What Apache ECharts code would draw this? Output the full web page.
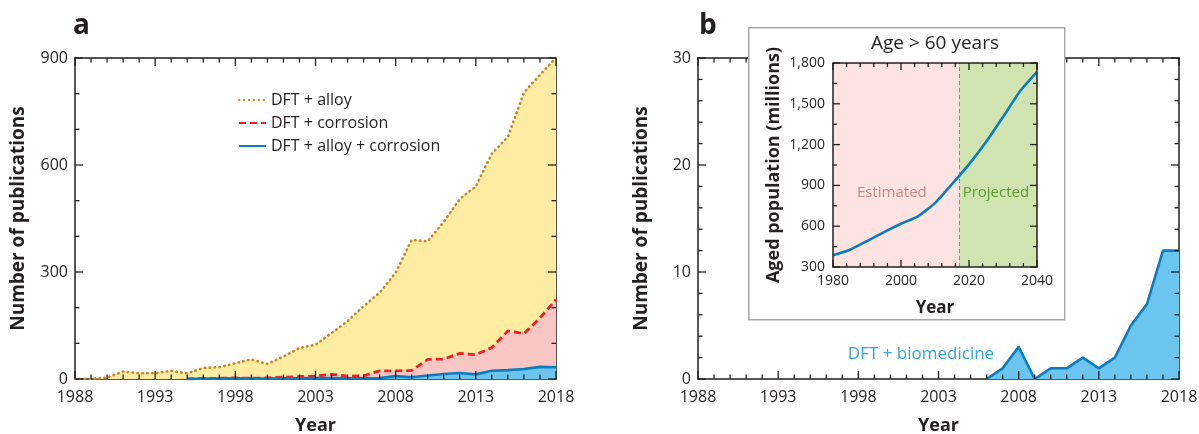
<!DOCTYPE html>
<html>
<head>
<meta charset="utf-8">
<title>DFT publications and aged population</title>
<script src="https://cdn.jsdelivr.net/npm/echarts@6/dist/echarts.min.js"></script>
<style>
  html, body { margin: 0; padding: 0; background: #fff; }
  #chart { width: 1199px; height: 434px; }
</style>
</head>
<body>
<div id="chart"></div>
<script>
// Publication years shared by both panels
const years = [1988, 1989, 1990, 1991, 1992, 1993, 1994, 1995, 1996, 1997, 1998,
               1999, 2000, 2001, 2002, 2003, 2004, 2005, 2006, 2007, 2008, 2009,
               2010, 2011, 2012, 2013, 2014, 2015, 2016, 2017, 2018];

// Panel a: yearly publication counts
const dftAlloy = [0, 0, 4, 21, 16, 16, 23, 16, 31, 33, 44,
                  55, 42, 63, 87, 96, 129, 162, 204, 242, 298, 390,
                  386, 441, 505, 540, 632, 679, 803, 853, 900];
const dftCorrosion = [null, null, null, null, null, null, null, 0, 2, 2, 3,
                      2, 3, 5, 7, 8, 13, 8, 9, 23, 23, 24,
                      55, 56, 72, 68, 88, 135, 127, 171, 223];
const dftAlloyCorrosion = [null, null, null, null, null, null, null, 0, 1, 1, 2,
                           1, 1, 2, 2, 3, 3, 2, 2, 3, 8, 5,
                           10, 14, 17, 13, 23, 25, 28, 34, 33];

// Panel b: DFT + biomedicine
const bioYears = [2006, 2007, 2008, 2009, 2010, 2011, 2012, 2013, 2014, 2015, 2016, 2017, 2018];
const dftBiomedicine = [0, 1, 3, 0, 1, 1, 2, 1, 2, 5, 7, 12, 12];

// Inset: population aged over 60 (millions)
const popYears = [1980, 1985, 1990, 1995, 2000, 2005, 2010, 2015, 2020, 2025, 2030, 2035, 2040];
const agedPopulation = [386, 427, 491, 557, 618, 673, 770, 910, 1055, 1219, 1403, 1592, 1734];
const projectionStart = 2017;
const popRange = [1980, 2040];

// Axis ticks: [min, max, major step, minor step]
const yearStart = 1988;
const yearEnd = 2018;
const yearTicks = [0, yearEnd - yearStart, 5, 1];
const pubTicksA = [0, 900, 300, 100];
const pubTicksB = [0, 30, 10, 2];
const popYearTicks = [popRange[0], popRange[1], 20, 4];
const popTicks = [300, 1800, 300, 150];

const INK = '#231f20';
const FONT = '"Open Sans", "Noto Sans", sans-serif';
// index of no axis: keeps each frame side on its own edge instead of the zero line
const NO_ZERO_AXIS = 99;

// Plot rectangles
const GRIDS = [
  { left: 75, top: 58, width: 481, height: 321 },
  { left: 698, top: 58, width: 481, height: 321 },
  { left: 833, top: 63, width: 204, height: 204 }
];

// x positions are counted from the first year so ticks land on 1988, 1993, ...
function toPairs(xs, ys) {
  const out = [];
  xs.forEach((x, i) => { if (ys[i] !== null) out.push([x - yearStart, ys[i]]); });
  return out;
}

// Labelled axis on the bottom/left edge plus a bare line on the top/right edge
function frameAxes(dim, gridIndex, ticks, cfg) {
  const isX = dim === 'x';
  const base = {
    gridIndex, type: 'value', min: ticks[0], max: ticks[1], interval: ticks[2], z: cfg.z || 0,
    axisTick: { show: false }, minorTick: { show: false },
    splitLine: { show: false }, minorSplitLine: { show: false }, splitArea: { show: false }
  };
  const line = { show: true, onZeroAxisIndex: NO_ZERO_AXIS, lineStyle: { color: INK, width: 1.5 } };
  const labelled = Object.assign({}, base, {
    position: isX ? 'bottom' : 'left',
    axisLine: line,
    axisLabel: Object.assign({ show: true, color: INK, fontFamily: FONT }, cfg.label),
    name: cfg.name, nameLocation: 'middle', nameGap: cfg.nameGap,
    nameTextStyle: Object.assign({ fontWeight: 'bold', color: INK, fontFamily: FONT }, cfg.nameStyle)
  });
  const opposite = Object.assign({}, base, {
    position: isX ? 'top' : 'right', axisLine: line, axisLabel: { show: false }
  });
  return [labelled, opposite];
}

const yearCfg = {
  label: { margin: 10, fontSize: 16, formatter: v => String(v + yearStart) },
  name: 'Year', nameGap: 38, nameStyle: { fontSize: 18 }
};
const countCfg = {
  label: { margin: 7, fontSize: 16 },
  name: 'Number of publications', nameGap: 47, nameStyle: { fontSize: 19 }
};
const popXCfg = {
  z: 25,
  label: { margin: 7, fontSize: 14, formatter: v => String(v) },
  name: 'Year', nameGap: 33, nameStyle: { fontSize: 17 }
};
const popYCfg = {
  z: 25,
  label: { margin: 8, fontSize: 14, formatter: v => v.toLocaleString('en-US') },
  name: 'Aged population (millions)', nameGap: 50, nameStyle: { fontSize: 18 }
};

/*
 * Inward tick marks on all four sides of a frame, spaced evenly along the
 * plot rectangle between the axis' min and max. Major ticks are longer.
 */
function frameTicks(gridIndex, xTicks, yTicks, lens, z) {
  const g = GRIDS[gridIndex];
  const top = g.top, bottom = g.top + g.height, left = g.left, right = g.left + g.width;
  const out = [];
  const tick = (x1, y1, x2, y2) => out.push({
    type: 'line', z, silent: true,
    shape: { x1, y1, x2, y2 },
    style: { stroke: INK, lineWidth: 1.3, fill: null }
  });
  const walk = (ticks, fn) => {
    const n = Math.round((ticks[1] - ticks[0]) / ticks[3]);
    const ratio = Math.round(ticks[2] / ticks[3]);
    for (let i = 0; i <= n; i++) fn(i / n, i % ratio === 0);
  };
  walk(xTicks, (t, major) => {
    const px = left + t * g.width;
    const len = major ? lens[0] : lens[1];
    tick(px, bottom, px, bottom - len);
    tick(px, top, px, top + len);
  });
  walk(yTicks, (t, major) => {
    const py = bottom - t * g.height;
    const len = major ? lens[0] : lens[1];
    tick(left, py, left + len, py);
    tick(right, py, right - len, py);
  });
  return out;
}

const graphic = [
  { type: 'text', left: 73, top: 12, z: 30,
    style: { text: 'a', fontSize: 28, fontWeight: 'bold', fill: INK, fontFamily: FONT } },
  { type: 'text', left: 699, top: 12, z: 30,
    style: { text: 'b', fontSize: 28, fontWeight: 'bold', fill: INK, fontFamily: FONT } },
  { type: 'rect', left: 748, top: 27, z: 10,
    shape: { width: 316, height: 292 },
    style: { fill: '#ffffff', stroke: '#a8a8a8', lineWidth: 1.5 } },
  { type: 'text', x: 935, y: 44, z: 30,
    style: { text: 'Age > 60 years', fontSize: 19, fill: INK, fontFamily: FONT,
             align: 'center', verticalAlign: 'middle' } },
  { type: 'text', x: 921, y: 354, z: 30,
    style: { text: 'DFT + biomedicine', fontSize: 17, fill: '#35a6dc', fontFamily: FONT,
             align: 'center', verticalAlign: 'middle' } }
].concat(
  frameTicks(0, yearTicks, pubTicksA, [8, 4.5], 5),
  frameTicks(1, yearTicks, pubTicksB, [8, 4.5], 5),
  frameTicks(2, popYearTicks, popTicks, [7, 4], 30)
);

const chart = echarts.init(document.getElementById('chart'), null, { renderer: 'canvas' });

chart.setOption({
  animation: false,
  backgroundColor: '#ffffff',
  textStyle: { fontFamily: FONT, color: INK },
  grid: GRIDS.map(g => Object.assign({ outerBoundsMode: 'none', containLabel: false }, g)),
  xAxis: [].concat(
    frameAxes('x', 0, yearTicks, yearCfg),
    frameAxes('x', 1, yearTicks, yearCfg),
    frameAxes('x', 2, popYearTicks, popXCfg)
  ),
  yAxis: [].concat(
    frameAxes('y', 0, pubTicksA, countCfg),
    frameAxes('y', 1, pubTicksB, countCfg),
    frameAxes('y', 2, popTicks, popYCfg)
  ),
  legend: {
    data: ['DFT + alloy', 'DFT + corrosion', 'DFT + alloy + corrosion'],
    orient: 'vertical', left: 238, top: 92, padding: 0,
    itemWidth: 27, itemHeight: 14, itemGap: 7,
    itemStyle: { opacity: 0 },
    textStyle: { fontSize: 16, color: INK, fontFamily: FONT },
    selectedMode: false
  },
  graphic: graphic,
  series: [
    {
      name: 'DFT + alloy', type: 'line', xAxisIndex: 0, yAxisIndex: 0,
      data: toPairs(years, dftAlloy), symbol: 'none',
      lineStyle: { color: '#c8871e', width: 2.6, type: [0.5, 4.4], cap: 'round' },
      itemStyle: { color: '#c8871e' },
      areaStyle: { color: '#fdeca2', opacity: 1 }
    },
    {
      name: 'DFT + corrosion', type: 'line', xAxisIndex: 0, yAxisIndex: 0,
      data: toPairs(years, dftCorrosion), symbol: 'none',
      lineStyle: { color: '#ee1f26', width: 2.8, type: [7, 4] },
      itemStyle: { color: '#ee1f26' },
      areaStyle: { color: '#f8c7c4', opacity: 1 }
    },
    {
      name: 'DFT + alloy + corrosion', type: 'line', xAxisIndex: 0, yAxisIndex: 0,
      data: toPairs(years, dftAlloyCorrosion), symbol: 'none',
      lineStyle: { color: '#0b7cc2', width: 2.6 },
      itemStyle: { color: '#0b7cc2' },
      areaStyle: { color: '#6cc5ee', opacity: 1 }
    },
    {
      name: 'DFT + biomedicine', type: 'line', xAxisIndex: 2, yAxisIndex: 2,
      data: toPairs(bioYears, dftBiomedicine), symbol: 'none',
      lineStyle: { color: '#0b7cc2', width: 2.6 },
      areaStyle: { color: '#6cc5ee', opacity: 1 }
    },
    {
      name: 'Aged population', type: 'line', xAxisIndex: 4, yAxisIndex: 4, z: 20,
      data: popYears.map((y, i) => [y, agedPopulation[i]]), symbol: 'none',
      smooth: 0.15,
      lineStyle: { color: '#0b7cc2', width: 2.6 },
      markArea: {
        silent: true, z: 15,
        data: [
          [{ xAxis: popRange[0], itemStyle: { color: '#fde4e2' },
             label: { show: true, position: 'inside', offset: [-4, 28], formatter: 'Estimated',
                      color: '#c98784', fontSize: 15, fontFamily: FONT } },
           { xAxis: projectionStart }],
          [{ xAxis: projectionStart, itemStyle: { color: '#d0e4b1' },
             label: { show: true, position: 'inside', offset: [-2, 28], formatter: 'Projected',
                      color: '#5b9a2f', fontSize: 15, fontFamily: FONT } },
           { xAxis: popRange[1] }]
        ]
      },
      markLine: {
        silent: true, z: 16, symbol: 'none', label: { show: false },
        lineStyle: { color: '#8c8c8c', width: 1, type: [4, 3] },
        data: [{ xAxis: projectionStart }]
      }
    }
  ]
});
</script>
</body>
</html>
